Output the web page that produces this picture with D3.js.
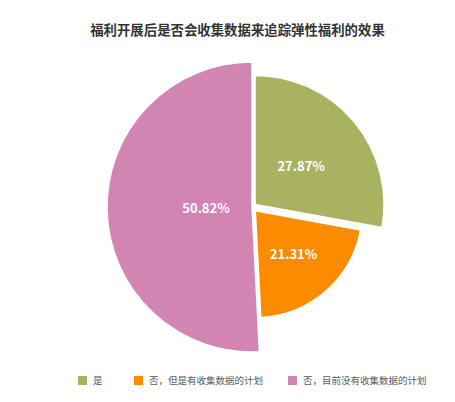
<!DOCTYPE html>
<html>
<head>
<meta charset="utf-8">
<script src="https://cdn.jsdelivr.net/npm/d3@7/dist/d3.min.js"></script>
<style>
  body { margin:0; background:#fff; }
  svg { display:block; font-family:"Noto Sans CJK SC", "Noto Sans", sans-serif; }
</style>
</head>
<body>
<svg width="455" height="402"></svg>
<script>
// data
const categories = ["是", "否，但是有收集数据的计划", "否，目前没有收集数据的计划"];
const values = [27.87, 21.31, 50.82];
const labels = ["27.87%", "21.31%", "50.82%"];
const title = "福利开展后是否会收集数据来追踪弹性福利的效果";

const colors = ["#a9b261", "#fb8c00", "#d284b3"];
// per slice look: outer radius, explode offset, label distance
const radii = [129, 107, 145];
const explode = [4, 5, 0];
const labelDist = [60, 58, 46];

const svg = d3.select('svg');
const cx = 252, cy = 207;

svg.append('text')
  .attr('x', 237.5).attr('y', 35)
  .attr('text-anchor', 'middle')
  .attr('font-size', 13.4).attr('font-weight', 'bold')
  .attr('fill', '#333')
  .text(title);

const pie = d3.pie().sort(null).value(d => d)(values);

const g = svg.append('g').attr('transform', `translate(${cx},${cy})`);

const slices = g.selectAll('g.slice').data(pie)
  .enter().append('g')
  .attr('class', 'slice')
  .attr('transform', (d, i) => {
    const a = (d.startAngle + d.endAngle) / 2;
    return `translate(${Math.sin(a) * explode[i]},${-Math.cos(a) * explode[i]})`;
  });

slices.append('path')
  .attr('d', (d, i) => d3.arc().innerRadius(0).outerRadius(radii[i])(d))
  .attr('fill', (d, i) => colors[i])
  .attr('stroke', '#fff')
  .attr('stroke-width', 1.5);

slices.append('text')
  .attr('x', (d, i) => Math.sin((d.startAngle + d.endAngle) / 2) * labelDist[i])
  .attr('y', (d, i) => -Math.cos((d.startAngle + d.endAngle) / 2) * labelDist[i])
  .attr('dy', '0.35em')
  .attr('text-anchor', 'middle')
  .attr('font-size', 13).attr('font-weight', 'bold')
  .attr('fill', '#fff')
  .text((d, i) => labels[i]);

// legend
const legendX = [78, 134, 288];
const legend = svg.append('g').selectAll('g').data(categories)
  .enter().append('g')
  .attr('transform', (d, i) => `translate(${legendX[i]},376)`);
legend.append('rect')
  .attr('width', 9).attr('height', 9)
  .attr('fill', (d, i) => colors[i]);
legend.append('text')
  .attr('x', 15).attr('y', 4.5).attr('dy', '0.35em')
  .attr('font-size', 9.5)
  .attr('fill', '#595959')
  .text(d => d);
</script>
</body>
</html>
